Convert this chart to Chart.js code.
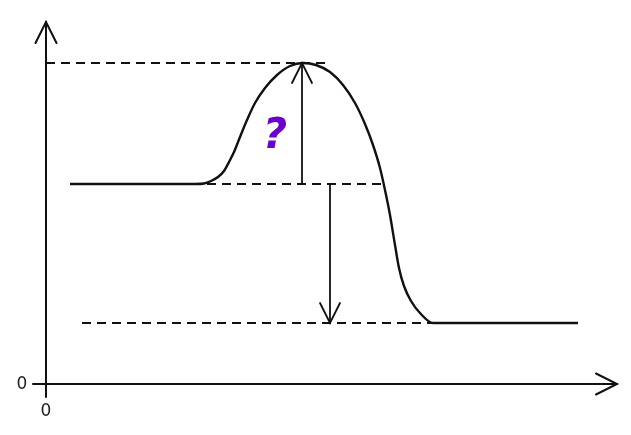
<!DOCTYPE html>
<html>
<head>
<meta charset="utf-8">
<script src="https://cdn.jsdelivr.net/npm/chart.js@4"></script>
<style>
  html, body { margin: 0; padding: 0; background: #fff; }
  #wrap { width: 631px; height: 435px; position: relative; }
</style>
</head>
<body>
<div id="wrap"><canvas id="energyChart"></canvas></div>
<script>
// energy profile, values (arbitrary units)
const curveX = [24, 150, 158, 165, 172, 178, 183, 188, 194, 201, 209, 219, 231, 244, 257, 270, 284, 297, 309, 319, 327, 334, 339, 344, 349, 353, 358, 365, 374, 387, 532];
const curveY = [200, 200, 200.5, 203, 207, 213, 222, 232, 247, 264, 281, 296, 309, 318, 321, 319, 312, 299, 281, 260, 239, 216, 194, 169, 139, 116, 98, 83, 71, 61, 61];

const reactantLevel = 200;
const peakLevel = 321;
const productLevel = 61;

// dashed guide lines: [xStart, xEnd, level]
const guideTop = [0, 284, peakLevel];
const guideMid = [161, 338, reactantLevel];
const guideBottom = [36, 387, productLevel];

// arrows: [x, from, to]
const arrowUp = [256, reactantLevel, peakLevel];
const arrowDown = [284, reactantLevel, productLevel];

const xMax = 571;
const yMax = 362;
const tickLabels = ['0', '0'];
const questionLabel = '?';

const curve = curveX.map((x, i) => ({ x: x, y: curveY[i] }));
const seg = (g) => [{ x: g[0], y: g[2] }, { x: g[1], y: g[2] }];
const vseg = (a) => [{ x: a[0], y: a[1] }, { x: a[0], y: a[2] }];

const dashStyle = { borderColor: '#111', borderWidth: 1.8, borderDash: [9, 6], pointRadius: 0, fill: false };
const arrowStyle = { borderColor: '#111', borderWidth: 1.8, pointRadius: 0, fill: false };

function arrowHead(ctx, tx, ty, dx, dy, len, half) {
    // dx,dy unit direction of the arrow
    const bx = tx - dx * len, by = ty - dy * len;
    const px = -dy, py = dx;
    ctx.beginPath();
    ctx.moveTo(bx + px * half, by + py * half);
    ctx.lineTo(tx, ty);
    ctx.lineTo(bx - px * half, by - py * half);
    ctx.stroke();
}

const decorations = {
    id: 'decorations',
    afterDatasetsDraw(chart) {
        const ctx = chart.ctx;
        const sx = chart.scales.x, sy = chart.scales.y;
        const ox = sx.getPixelForValue(0), oy = sy.getPixelForValue(0);
        const topY = sy.getPixelForValue(yMax), rightX = sx.getPixelForValue(xMax);
        ctx.save();
        ctx.strokeStyle = '#111';
        ctx.lineCap = 'round';
        // axes
        ctx.lineWidth = 2;
        ctx.beginPath();
        ctx.moveTo(ox, oy + 13);
        ctx.lineTo(ox, topY);
        ctx.moveTo(ox - 13, oy);
        ctx.lineTo(rightX, oy);
        ctx.stroke();
        arrowHead(ctx, ox, topY, 0, -1, 21, 10.5);
        arrowHead(ctx, rightX, oy, 1, 0, 21, 10.5);
        // small arrow heads
        ctx.lineWidth = 1.8;
        arrowHead(ctx, sx.getPixelForValue(arrowUp[0]), sy.getPixelForValue(arrowUp[2]), 0, -1, 20, 10);
        arrowHead(ctx, sx.getPixelForValue(arrowDown[0]), sy.getPixelForValue(arrowDown[2]), 0, 1, 20, 10);
        // zero labels
        ctx.fillStyle = '#222';
        ctx.font = '17px "DejaVu Sans"';
        ctx.textAlign = 'center';
        ctx.textBaseline = 'middle';
        ctx.fillText(tickLabels[0], ox - 24, oy + 1);
        ctx.fillText(tickLabels[1], ox, oy + 28);
        // question mark
        ctx.fillStyle = '#6c00cc';
        ctx.font = 'italic bold 42px "DejaVu Sans"';
        ctx.fillText(questionLabel, sx.getPixelForValue(229), sy.getPixelForValue(247));
        ctx.restore();
    }
};

new Chart(document.getElementById('energyChart'), {
    type: 'line',
    data: {
        datasets: [
            { data: curve, borderColor: '#111', borderWidth: 2.4, pointRadius: 0, fill: false, cubicInterpolationMode: 'monotone' },
            Object.assign({ data: seg(guideTop) }, dashStyle),
            Object.assign({ data: seg(guideMid) }, dashStyle),
            Object.assign({ data: seg(guideBottom) }, dashStyle),
            Object.assign({ data: vseg(arrowUp) }, arrowStyle),
            Object.assign({ data: vseg(arrowDown) }, arrowStyle)
        ]
    },
    options: {
        responsive: true,
        maintainAspectRatio: false,
        animation: false,
        layout: { padding: { left: 46, top: 22, right: 14, bottom: 51 } },
        scales: {
            x: { type: 'linear', min: 0, max: xMax, display: false },
            y: { type: 'linear', min: 0, max: yMax, display: false }
        },
        plugins: { legend: { display: false }, tooltip: { enabled: false } }
    },
    plugins: [decorations]
});
</script>
</body>
</html>
